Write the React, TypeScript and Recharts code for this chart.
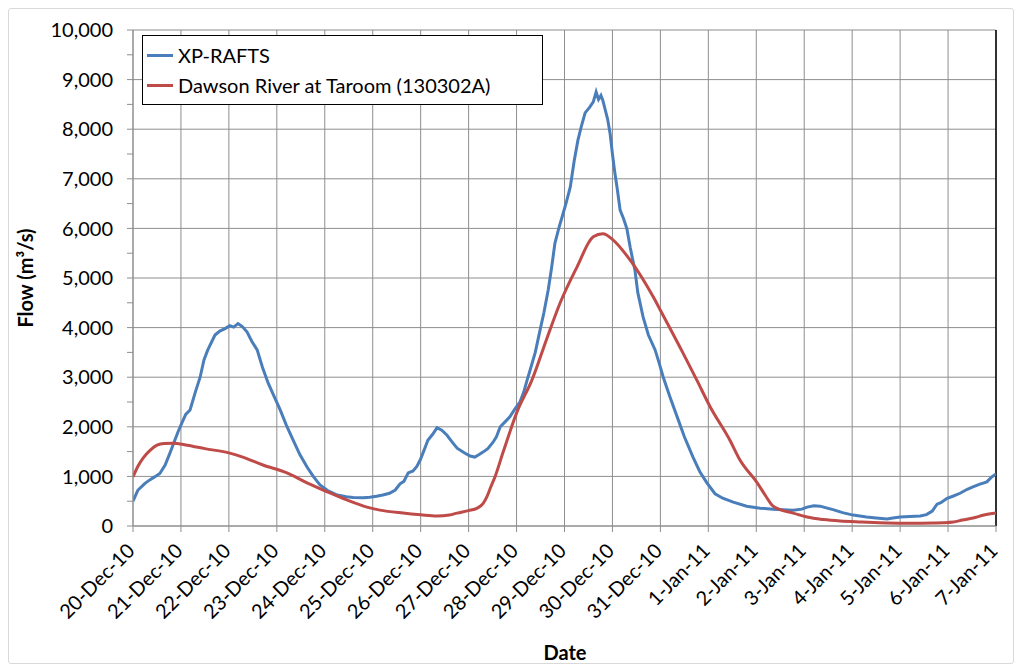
import React from 'react';
import { LineChart, Line, XAxis, YAxis, CartesianGrid, ReferenceLine, Label } from 'recharts';

const dateLabels = ['20-Dec-10','21-Dec-10','22-Dec-10','23-Dec-10','24-Dec-10','25-Dec-10','26-Dec-10','27-Dec-10','28-Dec-10','29-Dec-10','30-Dec-10','31-Dec-10','1-Jan-11','2-Jan-11','3-Jan-11','4-Jan-11','5-Jan-11','6-Jan-11','7-Jan-11'];
const dayTicks = [0,1,2,3,4,5,6,7,8,9,10,11,12,13,14,15,16,17,18];
const flowTicks = [0,500,1000,1500,2000,2500,3000,3500,4000,4500,5000,5500,6000,6500,7000,7500,8000,8500,9000,9500,10000];
const gridFlows = [0,1000,2000,3000,4000,5000,6000,7000,8000,9000,10000];
const seriesNames = ['XP-RAFTS', 'Dawson River at Taroom (130302A)'];

// XP-RAFTS (days since 20-Dec-10)
const raftsDay = [0,0.1,0.25,0.35,0.45,0.56,0.67,0.77,0.94,1.02,1.1,1.19,1.3,1.4,1.48,1.56,1.71,1.81,1.92,2.02,2.1,2.19,2.28,2.38,2.48,2.59,2.7,2.82,2.95,3.07,3.2,3.34,3.48,3.63,3.76,3.9,4.05,4.26,4.45,4.59,4.8,4.94,5.08,5.21,5.35,5.47,5.57,5.65,5.74,5.84,5.92,5.99,6.08,6.15,6.25,6.34,6.44,6.55,6.65,6.76,6.9,7.03,7.13,7.22,7.3,7.4,7.51,7.58,7.66,7.76,7.86,7.96,8.07,8.15,8.22,8.3,8.39,8.49,8.57,8.66,8.73,8.8,8.88,8.95,9.03,9.12,9.2,9.28,9.35,9.43,9.53,9.6,9.66,9.71,9.76,9.8,9.85,9.9,9.95,10,10.05,10.1,10.16,10.23,10.3,10.37,10.47,10.53,10.64,10.75,10.89,10.97,11.06,11.2,11.35,11.5,11.68,11.82,11.97,12.14,12.3,12.52,12.8,13.08,13.35,13.55,13.77,13.95,14.06,14.2,14.33,14.6,14.8,15.02,15.3,15.5,15.73,15.85,16,16.2,16.42,16.55,16.67,16.77,16.85,16.98,17.1,17.25,17.4,17.52,17.65,17.81,17.9,18];
const raftsFlow = [500,720,860,930,990,1060,1230,1470,1900,2080,2250,2340,2700,3000,3350,3550,3850,3930,3980,4040,4010,4080,4020,3910,3720,3550,3200,2880,2600,2340,2030,1730,1440,1190,1000,830,720,625,590,575,570,580,600,625,660,725,850,900,1070,1110,1200,1330,1550,1730,1850,1980,1930,1830,1700,1570,1480,1410,1390,1440,1490,1560,1690,1800,2000,2100,2200,2350,2500,2700,2940,3200,3500,3950,4300,4760,5200,5700,6000,6230,6500,6830,7350,7780,8050,8330,8450,8550,8750,8600,8680,8580,8390,8200,7920,7500,7120,6800,6370,6200,6000,5620,5150,4700,4210,3850,3550,3300,3000,2600,2200,1800,1390,1100,870,650,560,480,400,360,340,330,320,340,380,410,400,330,270,220,180,160,140,160,180,190,200,230,300,440,470,560,600,660,740,790,840,890,980,1050];

// Dawson River at Taroom (130302A)
const taroomDay = [0,0.1,0.21,0.35,0.5,0.65,0.83,1.13,1.5,2.02,2.29,2.71,3.21,3.63,4.05,4.46,4.88,5.15,5.63,6,6.34,6.6,6.76,7,7.18,7.3,7.38,7.46,7.55,7.72,8.01,8.32,8.64,8.91,9.26,9.6,9.8,10.01,10.37,10.85,11,11.47,11.76,12.04,12.45,12.66,13.02,13.2,13.33,13.5,13.77,14.06,14.4,14.75,15.2,15.73,16.2,16.69,16.9,17.11,17.3,17.52,17.75,18];
const taroomFlow = [990,1200,1370,1520,1630,1665,1670,1630,1560,1470,1390,1230,1070,870,690,525,380,320,260,225,200,220,260,310,360,450,585,780,990,1490,2300,2940,3800,4500,5220,5830,5890,5770,5360,4620,4350,3490,2940,2400,1730,1330,870,600,420,330,260,180,130,100,80,60,55,60,65,80,120,160,220,260];

const raftsData = raftsDay.map((d, i) => ({ day: d, flow: raftsFlow[i] }));
const taroomData = taroomDay.map((d, i) => ({ day: d, flow: taroomFlow[i] }));

const FONT = 'Lato, "Open Sans", sans-serif';
const BLUE = '#4a7ebb';
const RED = '#be4b48';
const GRID = '#8e8e8e';

const XTick = (props: any) => {
  const { x, y, payload } = props;
  const ax = x + 3;
  const ay = y + 18;
  return (
    <text x={ax} y={ay} transform={`rotate(-45, ${ax}, ${ay})`} textAnchor="end" fontSize={20} fontFamily={FONT} fill="#000">
      {dateLabels[payload.value]}
    </text>
  );
};

const LegendBox = () => (
  <div style={{ position: 'absolute', left: 133, top: 26, border: '1px solid #000', background: '#fff', width: 401, height: 70, boxSizing: 'border-box', fontFamily: FONT, fontSize: 20, color: '#000', padding: '4px 0 0 4px' }}>
    {[BLUE, RED].map((c, i) => (
      <div key={c} style={{ display: 'flex', alignItems: 'center', height: 30 }}>
        <div style={{ width: 26, height: 3, background: c, marginRight: 5 }} />
        <span>{seriesNames[i]}</span>
      </div>
    ))}
  </div>
);

export default function App() {
  return (
    <div style={{ width: 1004, height: 654, border: '1px solid #d9d9d9', borderRadius: 3, position: 'relative' }}>
      <LineChart width={1004} height={654} margin={{ top: 21, right: 17, left: 0, bottom: 0 }}>
        <CartesianGrid stroke={GRID} strokeWidth={1} horizontalValues={gridFlows} verticalValues={dayTicks} />
        <XAxis
          dataKey="day"
          type="number"
          domain={[0, 18]}
          ticks={dayTicks}
          allowDataOverflow
          height={137}
          tickSize={6}
          tick={<XTick />}
          interval={0}
          axisLine={{ stroke: GRID }}
          tickLine={{ stroke: GRID }}
        >
          <Label
            content={() => (
              <text x={556} y={651} textAnchor="middle" fontSize={20} fontWeight="bold" fontFamily={FONT} fill="#000">Date</text>
            )}
          />
        </XAxis>
        <YAxis
          width={124}
          type="number"
          domain={[0, 10000]}
          ticks={flowTicks}
          interval={0}
          tickSize={6}
          tickMargin={14}
          tickFormatter={(v: number) => (v % 1000 === 0 ? v.toLocaleString('en-US') : '')}
          tick={{ fontSize: 20, fill: '#000', fontFamily: FONT }}
          axisLine={{ stroke: GRID }}
          tickLine={{ stroke: GRID }}
        >
          <Label
            content={() => (
              <text x={24} y={269} transform="rotate(-90, 24, 269)" textAnchor="middle" fontSize={20} fontWeight="bold" fontFamily={FONT} fill="#000">Flow (m³/s)</text>
            )}
          />
        </YAxis>
        <ReferenceLine x={18} stroke="#000" strokeWidth={1.5} />
        <Line data={raftsData} dataKey="flow" name={seriesNames[0]} type="linear" stroke={BLUE} strokeWidth={3} dot={false} isAnimationActive={false} />
        <Line data={taroomData} dataKey="flow" name={seriesNames[1]} type="monotone" stroke={RED} strokeWidth={3} dot={false} isAnimationActive={false} />
      </LineChart>
      <LegendBox />
    </div>
  );
}
